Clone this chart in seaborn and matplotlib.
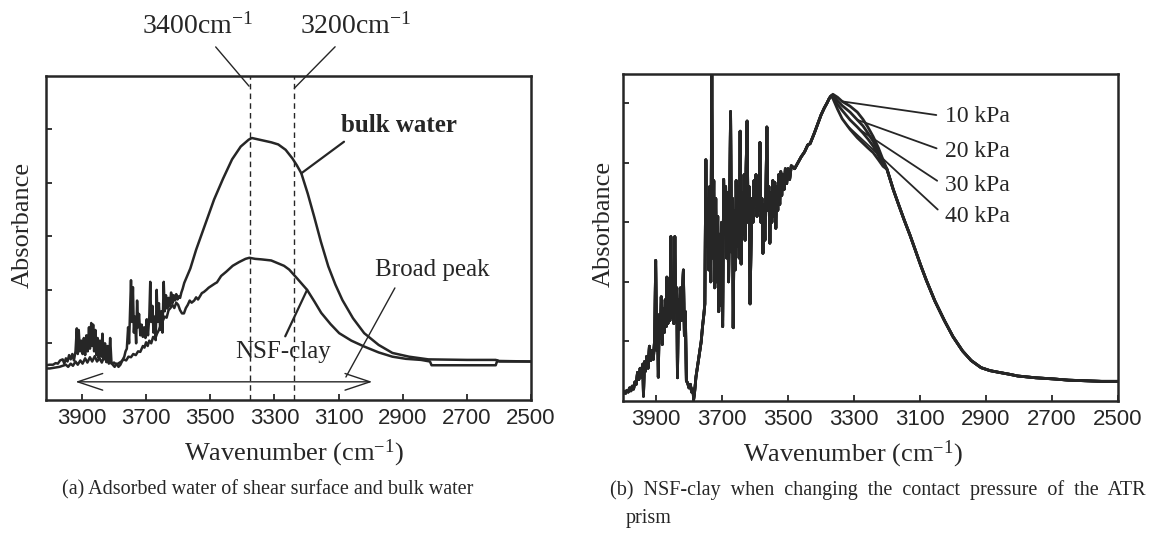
import numpy as np
import pandas as pd
import matplotlib
matplotlib.use("Agg")
import matplotlib.pyplot as plt
import seaborn as sns

# ---------------- data ----------------
# Panel (a): bulk water spectrum
bulk_wn = [4012, 4000, 3990, 3982, 3975, 3968, 3960, 3955, 3950, 3945, 3940, 3935,
           3930, 3925, 3920, 3916, 3913, 3910, 3906, 3902, 3898, 3894, 3890, 3886,
           3882, 3878, 3875, 3871, 3868, 3865, 3862, 3858, 3855, 3851, 3848, 3844,
           3840, 3836, 3832, 3828, 3824, 3820, 3816, 3812, 3808, 3804, 3798, 3792,
           3786, 3780, 3774, 3768, 3764, 3760, 3756, 3753, 3750, 3747, 3744, 3741,
           3738, 3735, 3731, 3728, 3725, 3722, 3718, 3714, 3710, 3706, 3702, 3698,
           3694, 3690, 3687, 3684, 3680, 3677, 3674, 3670, 3667, 3664, 3660, 3656,
           3652, 3649, 3645, 3642, 3638, 3634, 3630, 3626, 3622, 3618, 3614, 3610,
           3606, 3602, 3598, 3594, 3590, 3586, 3581,
           3562, 3544, 3516, 3488, 3460, 3432, 3405, 3380, 3370, 3340, 3310, 3288,
           3265, 3244, 3230, 3216, 3196, 3176, 3155, 3132, 3110, 3088, 3055, 3020,
           2975, 2932, 2880, 2820, 2700, 2610, 2600, 2500]
bulk_abs = [0.59, 0.60, 0.60, 0.63, 0.62, 0.68, 0.70, 0.62, 0.72, 0.66, 0.78, 0.70,
            0.80, 0.68, 0.85, 1.28, 0.80, 1.25, 0.85, 1.05, 0.80, 1.10, 0.78, 1.15,
            0.85, 1.30, 0.90, 1.38, 0.95, 1.35, 0.85, 1.25, 0.78, 1.10, 0.72, 1.05,
            0.75, 1.18, 0.70, 1.00, 0.65, 0.95, 0.62, 1.10, 0.65, 0.60, 0.56, 0.62,
            0.56, 0.60, 0.68, 0.75, 0.85, 0.90, 1.30, 1.00, 1.60, 2.18, 1.40, 2.05,
            1.20, 1.50, 1.00, 1.80, 1.30, 1.55, 1.15, 1.35, 1.12, 1.30, 1.10, 1.45,
            1.15, 1.50, 2.15, 1.40, 1.70, 1.20, 1.50, 1.06, 2.00, 1.40, 1.75, 1.25,
            1.60, 1.20, 2.15, 1.60, 1.90, 1.65, 1.85, 1.70, 1.95, 1.75, 1.90, 1.80,
            1.92, 1.82, 1.88, 1.85, 1.95, 2.02, 2.13,
            2.40, 2.75, 3.22, 3.69, 4.08, 4.44, 4.68, 4.81, 4.84, 4.80, 4.76, 4.72,
            4.62, 4.46, 4.33, 4.18, 3.80, 3.37, 2.90, 2.44, 2.10, 1.81, 1.47, 1.19,
            0.97, 0.82, 0.75, 0.70, 0.69, 0.69, 0.67, 0.66]

# Panel (a): NSF-clay spectrum
clay_wn = [4012, 4000, 3990, 3980, 3970, 3960, 3950, 3943, 3935, 3928, 3920, 3913,
           3905, 3898, 3890, 3883, 3875, 3868, 3860, 3853, 3845, 3838, 3830, 3823,
           3815, 3808, 3800, 3792, 3785, 3777, 3770, 3762, 3755, 3747, 3740, 3732,
           3725, 3718, 3710, 3705, 3700, 3695, 3690, 3684, 3678, 3672, 3666, 3660,
           3654, 3648, 3642, 3636, 3630, 3624, 3618, 3612, 3606, 3600, 3594, 3588,
           3582, 3576, 3570, 3564, 3558, 3550, 3544, 3538, 3532, 3526, 3520, 3512,
           3505, 3495, 3485, 3479, 3466, 3450, 3430, 3410, 3390, 3378,
           3360, 3340, 3310, 3290, 3270, 3254, 3230, 3198, 3175, 3154, 3125, 3098,
           3060, 3020, 2975, 2932, 2890, 2843, 2815, 2810, 2610, 2605, 2600, 2500]
clay_abs = [0.53, 0.53, 0.54, 0.55, 0.56, 0.58, 0.60, 0.56, 0.62, 0.58, 0.66, 0.60,
            0.68, 0.62, 0.72, 0.64, 0.74, 0.66, 0.76, 0.66, 0.72, 0.64, 0.76, 0.65,
            0.70, 0.62, 0.64, 0.60, 0.63, 0.66, 0.70, 0.68, 0.75, 0.74, 0.80, 0.78,
            0.85, 0.84, 0.95, 0.92, 1.02, 0.95, 1.05, 1.00, 1.12, 1.08, 1.18, 1.25,
            1.35, 1.42, 1.50, 1.48, 1.62, 1.66, 1.72, 1.66, 1.76, 1.72, 1.62, 1.56,
            1.56, 1.66, 1.72, 1.80, 1.76, 1.80, 1.86, 1.82, 1.88, 1.94, 1.96, 2.00,
            2.04, 2.08, 2.12, 2.14, 2.26, 2.34, 2.45, 2.52, 2.58, 2.60,
            2.58, 2.57, 2.55, 2.50, 2.45, 2.38, 2.22, 2.00, 1.78, 1.57, 1.36, 1.19,
            1.05, 0.94, 0.83, 0.75, 0.71, 0.69, 0.66, 0.59, 0.59, 0.68, 0.66, 0.66]

marker_wn = [3375, 3240]                      # dashed reference lines
marker_labels = ["3400cm$^{-1}$", "3200cm$^{-1}$"]
broad_range = (3920, 2995)                    # double-headed arrow extent

# Panel (b): common noisy part (4000 -> 3370)
noise_wn = [4000, 3996, 3992, 3988, 3984, 3980, 3976, 3972, 3968, 3964, 3960, 3956,
            3952, 3948, 3944, 3940, 3938, 3935, 3932, 3928, 3924, 3920, 3916, 3912,
            3908, 3904, 3901, 3898, 3895, 3893, 3890, 3887, 3884, 3881, 3878, 3875,
            3872, 3869, 3867, 3864, 3861, 3858, 3855, 3852, 3849, 3846, 3843, 3840,
            3837, 3835, 3832, 3829, 3826, 3823, 3820, 3817, 3814, 3811, 3808, 3804,
            3800, 3796, 3792, 3788, 3786, 3783, 3779, 3775, 3771, 3767, 3763, 3759,
            3755, 3752, 3749, 3746, 3743, 3740, 3737, 3734, 3731, 3728, 3725, 3722,
            3719, 3716, 3713, 3710, 3707, 3704, 3701, 3698, 3695, 3692, 3689, 3686,
            3683, 3680, 3677, 3674, 3671, 3668, 3666, 3663, 3660, 3657, 3654, 3651,
            3648, 3645, 3642, 3639, 3636, 3633, 3630, 3627, 3624, 3621, 3618, 3615,
            3612, 3609, 3606, 3603, 3600, 3597, 3594, 3591, 3588, 3585, 3582, 3579,
            3576, 3573, 3570, 3567, 3564, 3561, 3558, 3555, 3552, 3549, 3546, 3543,
            3540, 3537, 3534, 3531, 3528, 3525, 3522, 3519, 3516, 3512, 3508, 3504,
            3500, 3495, 3490, 3480, 3470, 3460, 3450, 3440, 3433, 3420, 3410, 3400,
            3390, 3382, 3375, 3370]
noise_abs = [0.12, 0.16, 0.13, 0.18, 0.15, 0.22, 0.17, 0.25, 0.20, 0.32, 0.28, 0.48,
             0.36, 0.55, 0.40, 0.62, 0.08, 0.66, 0.50, 0.75, 0.55, 0.92, 0.68, 0.85,
             0.70, 1.05, 2.36, 0.85, 1.30, 0.40, 1.45, 1.05, 1.75, 0.95, 1.55, 1.15,
             1.70, 1.25, 2.08, 1.30, 1.80, 1.35, 2.76, 1.40, 1.95, 1.30, 2.76, 1.50,
             1.90, 0.39, 1.70, 1.20, 1.90, 1.35, 1.85, 2.20, 1.10, 1.50, 0.34, 0.30,
             0.22, 0.28, 0.15, 0.20, 0.02, 0.15, 0.40, 0.55, 0.70, 0.85, 1.00, 1.25,
             1.45, 1.63, 4.05, 2.60, 3.40, 2.20, 3.60, 2.00, 5.49, 2.40, 3.70, 1.90,
             3.40, 2.00, 3.10, 1.50, 2.80, 1.60, 3.00, 1.25, 3.72, 2.80, 3.60, 2.40,
             3.50, 2.00, 3.30, 4.86, 2.50, 3.40, 1.23, 3.20, 2.20, 3.70, 2.60, 3.60,
             2.40, 4.53, 2.30, 3.50, 2.80, 3.80, 2.70, 3.90, 4.70, 3.00, 3.60, 1.63,
             2.60, 3.40, 3.00, 3.70, 3.30, 3.80, 3.10, 3.60, 3.20, 4.34, 3.00, 3.40,
             2.48, 3.30, 2.70, 3.50, 4.60, 3.20, 3.60, 2.65, 3.50, 3.00, 3.70, 3.10,
             3.67, 2.90, 3.60, 3.20, 3.80, 3.30, 3.85, 3.45, 3.80, 3.55, 3.90, 3.65,
             3.90, 3.72, 3.95, 3.90, 4.00, 4.10, 4.18, 4.30, 4.32, 4.50, 4.65, 4.80,
             4.92, 5.00, 5.08, 5.12]

# Panel (b): peak region, one curve per contact pressure
peak_wn = [3364, 3350, 3336, 3312, 3290, 3273, 3258, 3242, 3226, 3212, 3200]
peak_10kpa = [5.15, 5.10, 5.03, 4.95, 4.85, 4.73, 4.60, 4.44, 4.25, 4.05, 3.89]
peak_20kpa = [5.13, 5.04, 4.96, 4.85, 4.72, 4.62, 4.50, 4.36, 4.18, 4.01, 3.89]
peak_30kpa = [5.10, 4.98, 4.88, 4.72, 4.60, 4.50, 4.40, 4.28, 4.12, 3.98, 3.89]
peak_40kpa = [5.08, 4.90, 4.74, 4.56, 4.42, 4.33, 4.25, 4.17, 4.05, 3.94, 3.89]

# Panel (b): common tail (3181 -> 2500)
tail_wn = [3181, 3165, 3148, 3130, 3114, 3098, 3081, 3055, 3026, 3000, 2971, 2945,
           2915, 2888, 2860, 2830, 2804, 2750, 2694, 2650, 2600, 2550, 2500]
tail_abs = [3.55, 3.30, 3.04, 2.78, 2.53, 2.28, 2.03, 1.68, 1.35, 1.08, 0.84, 0.68,
            0.56, 0.51, 0.48, 0.45, 0.42, 0.39, 0.37, 0.35, 0.34, 0.33, 0.33]

pressure_labels = ["10 kPa", "20 kPa", "30 kPa", "40 kPa"]
pressure_label_wn = [3336, 3290, 3282, 3320]     # where each leader line touches
pressure_text_y = [4.78, 4.19, 3.61, 3.10]       # label rows
pressure_text_wn = 3024

xtick_values = [3900, 3700, 3500, 3300, 3100, 2900, 2700, 2500]

caption_a = "(a) Adsorbed water of shear surface and bulk water"
caption_b1 = "(b)  NSF-clay  when  changing  the  contact  pressure  of  the  ATR"
caption_b2 = "prism"

# ---------------- style ----------------
sns.set_style("white")
plt.rcParams["font.family"] = ["Liberation Serif", "DejaVu Serif"]
plt.rcParams["mathtext.fontset"] = "custom"
plt.rcParams["mathtext.rm"] = "Liberation Serif"
plt.rcParams["mathtext.it"] = "Liberation Serif:italic"
plt.rcParams["mathtext.bf"] = "Liberation Serif:bold"

INK = "#262626"
SERIF = ["Liberation Serif", "DejaVu Serif"]
SANS = ["Liberation Sans", "DejaVu Sans"]

fig = plt.figure(figsize=(11.53, 5.34), dpi=100)
W, H = 1153, 534
ax1 = fig.add_axes([46 / W, 1 - 400 / H, 485 / W, 324 / H])
ax2 = fig.add_axes([623 / W, 1 - 401 / H, 495 / W, 327 / H])

# ---------------- panel (a) ----------------
df_a = pd.concat([
    pd.DataFrame({"wn": bulk_wn, "abs": bulk_abs, "series": "bulk water"}),
    pd.DataFrame({"wn": clay_wn, "abs": clay_abs, "series": "NSF-clay"}),
], ignore_index=True)
sns.lineplot(data=df_a, x="wn", y="abs", hue="series", palette=[INK, INK],
             sort=False, estimator=None, legend=False, lw=1.8, ax=ax1)

ax1.set_xlim(4012, 2500)
ax1.set_ylim(-0.06, 6.0)

for wn in marker_wn:
    ax1.axvline(wn, ls=(0, (4, 3)), lw=1.0, color=INK)

pt = 72 / 100  # px -> points
ax1.annotate(marker_labels[0], xy=(marker_wn[0] + 4, 5.81), xytext=(-51 * pt, 60 * pt),
             textcoords="offset points", ha="center", va="center", fontsize=20,
             family=SERIF, color=INK, annotation_clip=False,
             arrowprops=dict(arrowstyle="-", lw=1.0, color=INK, shrinkA=4, shrinkB=0))
ax1.annotate(marker_labels[1], xy=(marker_wn[1] - 2, 5.77), xytext=(61 * pt, 62 * pt),
             textcoords="offset points", ha="center", va="center", fontsize=20,
             family=SERIF, color=INK, annotation_clip=False,
             arrowprops=dict(arrowstyle="-", lw=1.0, color=INK, shrinkA=4, shrinkB=0))

bulk_pt_wn = 3216
ax1.annotate("bulk water", xy=(bulk_pt_wn, np.interp(bulk_pt_wn, bulk_wn[::-1], bulk_abs[::-1])),
             xytext=(98 * pt, 48 * pt), textcoords="offset points", ha="center", va="center",
             fontsize=18, fontweight="bold", family=SERIF, color=INK,
             arrowprops=dict(arrowstyle="-", lw=1.6, color=INK, relpos=(0.08, 0.0),
                             shrinkA=2, shrinkB=0))
clay_pt_wn = 3198
ax1.annotate("NSF-clay", xy=(clay_pt_wn, np.interp(clay_pt_wn, clay_wn[::-1], clay_abs[::-1])),
             xytext=(-24 * pt, -62 * pt), textcoords="offset points", ha="center", va="center",
             fontsize=18, family=SERIF, color=INK,
             arrowprops=dict(arrowstyle="-", lw=1.6, color=INK, relpos=(0.5, 1.0),
                             shrinkA=1, shrinkB=0))
ax1.annotate("Broad peak", xy=(3077, 0.37), xytext=(86 * pt, 107 * pt),
             textcoords="offset points", ha="center", va="center",
             fontsize=18, family=SERIF, color=INK,
             arrowprops=dict(arrowstyle="-", lw=1.0, color=INK, relpos=(0.21, 0.0),
                             shrinkA=3, shrinkB=0))
ax1.annotate("", xy=(broad_range[0], 0.28), xytext=(broad_range[1], 0.28),
             arrowprops=dict(arrowstyle="<->,head_length=1.5,head_width=0.5",
                             lw=1.0, color=INK, shrinkA=0, shrinkB=0, mutation_scale=12))

# ---------------- panel (b) ----------------
peaks = [peak_10kpa, peak_20kpa, peak_30kpa, peak_40kpa]
frames = []
for lab, pk in zip(pressure_labels, peaks):
    frames.append(pd.DataFrame({
        "wn": noise_wn + peak_wn + tail_wn,
        "abs": noise_abs + pk + tail_abs,
        "pressure": lab,
    }))
df_b = pd.concat(frames, ignore_index=True)
sns.lineplot(data=df_b, x="wn", y="abs", hue="pressure", palette=[INK] * 4,
             sort=False, estimator=None, legend=False, lw=2.0, ax=ax2)
ax2.set_xlim(4000, 2500)
ax2.set_ylim(0, 5.49)

for lab, pk, wn, ty in zip(pressure_labels, peaks, pressure_label_wn, pressure_text_y):
    yv = np.interp(wn, peak_wn[::-1], pk[::-1])
    ax2.annotate(lab, xy=(wn, yv), xytext=(pressure_text_wn, ty), textcoords="data",
                 ha="left", va="center", fontsize=17, family=SERIF, color=INK,
                 arrowprops=dict(arrowstyle="-", lw=1.3, color=INK, shrinkA=4, shrinkB=0,
                                 relpos=(0.0, 0.5)))

# ---------------- common axes styling ----------------
for ax, xl_x in ((ax1, 0.511), (ax2, 0.465)):
    ax.set_xticks(xtick_values)
    ax.set_xticklabels([str(v) for v in xtick_values], family=SANS, fontsize=16, color=INK)
    ax.set_yticks([1, 2, 3, 4, 5])
    ax.tick_params(axis="both", direction="in", length=4, width=1.3, colors=INK,
                   bottom=True, left=True, top=False, right=False, labelleft=False, pad=6)
    for s in ax.spines.values():
        s.set_linewidth(1.8)
        s.set_color(INK)
        s.set_visible(True)
    ax.set_xlabel("Wavenumber (cm$^{-1}$)", fontsize=19, family=SERIF, color=INK)
    ax.xaxis.set_label_coords(xl_x, -0.115)
    ax.set_ylabel("Absorbance", fontsize=19, family=SERIF, color=INK)

ax1.yaxis.set_label_coords(-0.025, 0.54)
ax2.yaxis.set_label_coords(-0.016, 0.54)

fig.text(62 / W, 1 - 490 / H, caption_a, ha="left", va="center", fontsize=14.5,
         family=SERIF, color=INK)
fig.text(610 / W, 1 - 490 / H, caption_b1, ha="left", va="center", fontsize=14.5,
         family=SERIF, color=INK)
fig.text(626 / W, 1 - 518 / H, caption_b2, ha="left", va="center", fontsize=14.5,
         family=SERIF, color=INK)

fig.savefig("out.png", dpi=100)
